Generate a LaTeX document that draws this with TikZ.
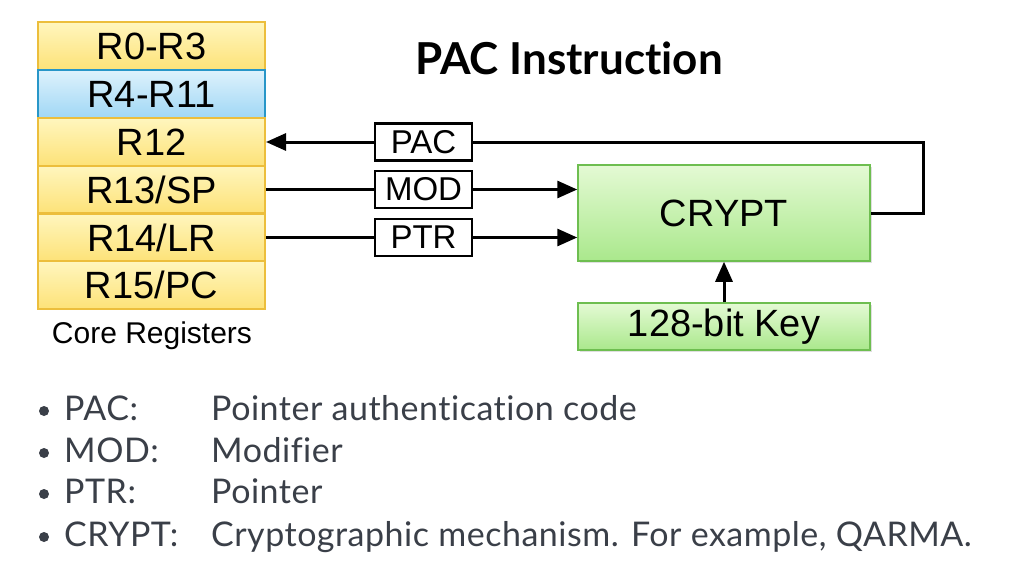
\documentclass[tikz,border=0pt]{standalone}
\usepackage{fontspec}
\setmainfont{Liberation Sans}
\newfontfamily\latofont[Ligatures=NoCommon]{Lato}
\newfontfamily\latospaced[Ligatures=NoCommon,LetterSpace=1.5]{Lato}
\usetikzlibrary{arrows.meta,shadows}
\definecolor{regborder}{RGB}{236,190,60}
\definecolor{regtop}{RGB}{255,246,190}
\definecolor{regbot}{RGB}{253,226,120}
\definecolor{bluetop}{RGB}{222,242,252}
\definecolor{bluebot}{RGB}{160,215,245}
\definecolor{blueborder}{RGB}{40,150,200}
\definecolor{greentop}{RGB}{228,250,212}
\definecolor{greenbot}{RGB}{170,232,140}
\definecolor{greenborder}{RGB}{110,190,80}
\definecolor{bullettext}{RGB}{58,63,72}
\tikzset{
  reg/.style={draw=regborder, line width=2pt, top color=regtop, bottom color=regbot,
    minimum width=227pt, minimum height=47.8pt, inner sep=0pt, font=\fontsize{38}{40}\selectfont},
  regblue/.style={reg, draw=blueborder, top color=bluetop, bottom color=bluebot},
  lbl/.style={draw=black, line width=2.5pt, fill=white, minimum width=97pt, minimum height=37pt,
    inner sep=0pt, font=\fontsize{33}{36}\selectfont},
  gbox/.style={draw=greenborder, line width=1.5pt, top color=greentop, bottom color=greenbot,
    inner sep=0pt, font=\fontsize{38}{40}\selectfont,
    drop shadow={opacity=0.25, shadow xshift=2pt, shadow yshift=-2pt}},
  conn/.style={line width=3pt, draw=black},
  tip/.style={-{Triangle[length=20pt,width=17pt]}},
  blt/.style={anchor=base west, inner sep=0pt, text=bullettext, font=\latospaced\fontsize{34}{36}\selectfont},
  dot/.style={circle, fill=bullettext, minimum size=10pt, inner sep=0pt},
}
\begin{document}
\begin{tikzpicture}[x=1pt,y=-1pt]
\useasboundingbox (0,0) rectangle (1024,583);
\fill[white] (0,0) rectangle (1024,583);
% registers
\node[reg] (r0) at (151.5,46) {R0-R3};
\node[regblue] (r4) at (151.5,94) {R4-R11};
\node[reg] (r12) at (151.5,142) {R12};
\node[reg] (r13) at (151.5,189.5) {R13/SP};
\node[reg] (r14) at (151.5,237.5) {R14/LR};
\node[reg] (r15) at (151.5,285) {R15/PC};
\node[font=\fontsize{30}{32}\selectfont] (core) at (152,336) {Core Registers};
% title
\node[font=\latofont\bfseries\fontsize{44}{48}\selectfont] (title) at (569,58) {PAC Instruction};
% crypt and key
\node[gbox, minimum width=292pt, minimum height=96pt] (crypt) at (724,213) {CRYPT};
\node[gbox, minimum width=292pt, minimum height=47pt] (key) at (724,326.5) {128-bit Key};
% labels
\node[lbl] (pac) at (423.5,142) {PAC};
\node[lbl] (mod) at (423.5,189.5) {MOD};
\node[lbl] (ptr) at (423.5,237.5) {PTR};
\coordinate (loop) at (923,213);
% connectors
\draw[conn,tip] (pac.west) -- (r12.east);
\draw[conn] (crypt.east) -- (loop) |- (pac.east);
\draw[conn] (r13.east) -- (mod.west);
\draw[conn,tip] (mod.east) -- (mod.east -| crypt.west);
\draw[conn] (r14.east) -- (ptr.west);
\draw[conn,tip] (ptr.east) -- (ptr.east -| crypt.west);
\draw[conn,tip] (key.north) -- (crypt.south);
% bullets
\node[dot] (b1) at (44,411) {};
\node[blt] (b1a) at (64,420) {PAC:};
\node[blt] (b1b) at (211,420) {Pointer authentication code};
\node[dot] (b2) at (44,453) {};
\node[blt] (b2a) at (64,462) {MOD:};
\node[blt] (b2b) at (211,462) {Modifier};
\node[dot] (b3) at (44,494) {};
\node[blt] (b3a) at (64,503) {PTR:};
\node[blt] (b3b) at (211,503) {Pointer};
\node[dot] (b4) at (44,537) {};
\node[blt] (b4a) at (64,546) {CRYPT:};
\node[blt] (b4b) at (211,546) {Cryptographic mechanism. For example, QARMA.};
\end{tikzpicture}
\end{document}
